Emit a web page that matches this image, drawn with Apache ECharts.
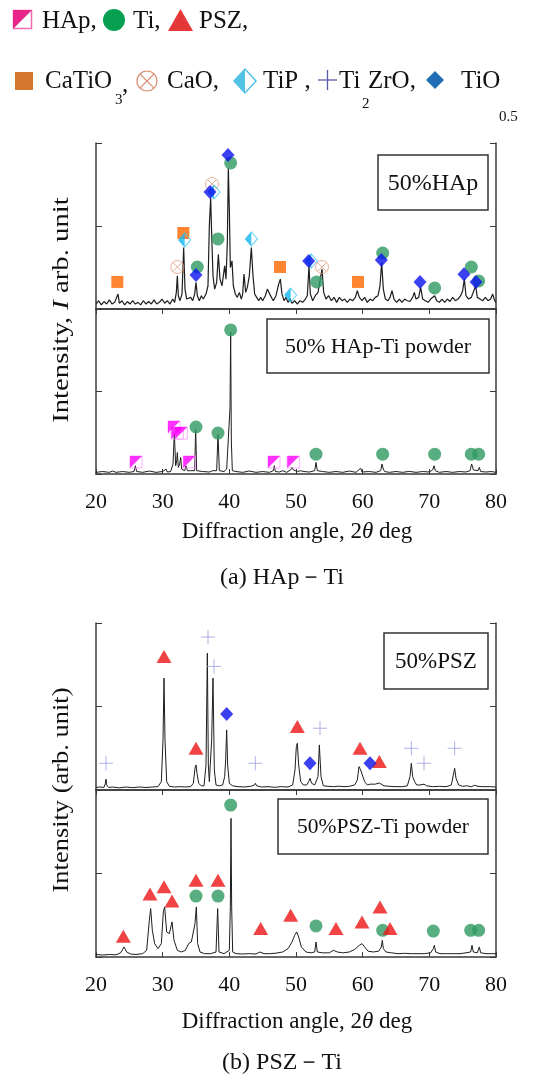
<!DOCTYPE html>
<html><head><meta charset="utf-8">
<script src="https://cdn.jsdelivr.net/npm/echarts@6.0.0/dist/echarts.min.js"></script>
<style>html,body{margin:0;padding:0;background:#fff}#c{width:555px;height:1075px}</style>
</head><body><div id="c"></div>
<script>
// 2θ tick labels shared by both panels
const angleTicks = [20, 30, 40, 50, 60, 70, 80];

// XRD traces: [2θ (deg), relative intensity 0-100 within its strip]
const hapSintered = [[20,3],[20.4,5],[20.8,2.5],[21.2,4.5],[21.6,3],[22,5.5],[22.4,3],[22.8,4],[23.1,3.5],[23.3,9],[23.5,3.5],[23.9,5],[24.3,2.5],[24.7,4.5],[25.1,3],[25.5,5],[25.9,3],[26.3,4],[26.7,2.5],[27.1,5],[27.5,3],[27.9,4.5],[28.3,3],[28.7,5.5],[29.1,3],[29.5,4],[29.9,6],[30.3,3.5],[30.7,5],[31.1,3],[31.5,6],[31.8,4],[32.05,10],[32.2,20],[32.35,8],[32.6,5],[32.9,9],[33.15,37],[33.35,12],[33.6,6],[33.9,5],[34.2,7],[34.5,5],[34.8,9],[35,16],[35.2,8],[35.5,5],[35.8,8],[36.1,6],[36.5,9],[36.8,14],[37.0,50],[37.2,67],[37.35,45],[37.55,20],[37.8,12],[38.1,16],[38.35,33],[38.6,18],[38.9,14],[39.1,20],[39.3,26],[39.5,18],[39.7,40],[39.85,85],[40.0,60],[40.15,25],[40.4,29],[40.6,14],[40.9,9],[41.2,7],[41.5,10],[41.8,6],[42.0,9],[42.2,21],[42.45,10],[42.7,13],[43.0,20],[43.3,37],[43.55,20],[43.8,9],[44.1,7],[44.4,5],[44.7,7],[45.0,5],[45.4,8],[45.7,12],[46.0,13],[46.3,7],[46.6,5],[47.0,8],[47.4,15],[47.65,18],[47.9,9],[48.2,5],[48.5,7],[48.8,4],[49.1,6],[49.4,3.5],[49.8,5],[50.2,3],[50.6,5],[51.0,4],[51.4,6],[51.7,8],[51.95,26],[52.15,9],[52.5,5],[52.9,8],[53.3,10],[53.6,17],[53.9,24],[54.15,10],[54.5,6],[54.9,8],[55.3,5],[55.7,7],[56.1,4],[56.5,7],[56.9,5],[57.3,6],[57.7,4],[58.1,6],[58.5,5],[58.9,7],[59.2,11],[59.5,7],[59.9,5],[60.3,7],[60.7,4],[61.1,6],[61.5,5],[61.9,7],[62.3,8],[62.6,14],[62.85,28],[63.1,12],[63.4,6],[63.8,5],[64.1,7],[64.4,11],[64.7,6],[65.1,4],[65.5,6],[65.9,4],[66.3,6],[66.7,5],[67.1,4.5],[67.5,7],[67.75,10],[68.0,6],[68.4,7],[68.7,13],[69.0,6],[69.4,5],[69.8,4],[70.2,6],[70.5,5],[70.8,8],[71.1,5],[71.5,4],[71.9,6],[72.3,4],[72.7,6],[73.1,4.5],[73.5,7],[73.9,5],[74.3,6],[74.7,8],[75.0,11],[75.25,18],[75.5,8],[75.9,6],[76.3,7],[76.6,6],[76.95,14],[77.2,7],[77.6,6],[78.0,5],[78.4,7],[78.8,5],[79.2,6],[79.5,9],[79.8,5],[80,4]];

const hapPowder = [[20,1],[21,1.5],[22,1],[22.5,1.8],[23,1],[24,1.5],[25,1],[25.7,1.5],[25.9,5],[26.1,1.5],[27,1],[28,1.8],[29,1],[30,1.5],[30.5,3],[30.7,1.2],[31.2,1.5],[31.55,6],[31.75,25],[31.95,5],[32.1,8],[32.2,13],[32.35,4],[32.55,6],[32.7,10],[32.85,3],[33.3,2],[33.5,5],[33.7,2],[34.0,3],[34.15,2],[34.8,2],[34.95,27],[35.1,2],[36,1.5],[37,1.2],[37.5,2],[38.1,2],[38.3,24],[38.5,2],[39.2,1.5],[39.6,3],[39.9,2],[40.1,40],[40.2,86],[40.3,20],[40.45,2],[41,1.5],[42,1],[43,1.8],[44,1],[45,1.5],[46,1],[46.6,2],[46.75,5],[46.9,1.5],[47.5,1.2],[48,2],[48.6,1],[49.2,2.5],[49.4,4],[49.6,2.5],[49.9,3],[50.2,1.5],[50.7,2],[51.2,1.5],[52,1.2],[52.8,2],[53.0,7],[53.2,2],[54,1.5],[55,1],[56,1.5],[57,1],[58,1.8],[59,1],[59.7,3.5],[59.9,1.2],[61,1.5],[62,1],[62.7,2],[62.9,6],[63.1,3],[63.3,1.5],[64,1],[65,1.5],[66,1],[67,1.6],[68,1],[69,1.5],[70,1.2],[70.5,2.5],[70.7,5],[70.9,2],[71.5,1],[72.5,1.5],[73.5,1],[74.5,1.5],[75.5,1.2],[76.1,2],[76.35,6],[76.6,2.5],[77.3,2],[77.5,4],[77.7,1.5],[78.5,1.2],[79.3,1.5],[80,1]];

const pszSintered = [[20,1.5],[20.6,1.8],[21.2,1.5],[21.4,4],[21.5,6.5],[21.6,3],[21.9,1.5],[22.5,1.8],[23.5,1.3],[24.5,1.8],[25.5,1.4],[26.5,1.8],[27.5,1.5],[28.5,1.8],[29.3,2],[29.8,5],[30.05,30],[30.2,67],[30.35,30],[30.6,5],[31.0,2.2],[31.8,1.8],[32.6,2],[33.4,1.8],[34.2,2],[34.6,4],[34.85,13],[35.0,15],[35.15,10],[35.4,4],[35.8,2.5],[36.2,2.5],[36.5,15],[36.7,82],[36.85,15],[37.0,5],[37.15,6],[37.35,30],[37.55,67],[37.75,12],[38.0,3],[38.5,2.5],[39.0,3],[39.3,8],[39.45,18],[39.6,36],[39.75,15],[40.0,4],[40.5,2.5],[41.3,2],[42.2,1.8],[43.2,2.2],[43.7,2.8],[43.9,4],[44.1,2.5],[44.8,1.8],[45.8,2],[46.8,1.6],[47.8,2],[48.8,1.8],[49.5,3],[49.85,12],[50.05,26],[50.2,28],[50.4,15],[50.7,5],[51.1,3],[51.6,3],[51.9,5],[52.1,7],[52.35,4],[52.8,3],[53.3,8],[53.5,27],[53.75,8],[54.1,2.5],[54.8,2.2],[55.6,2],[56.4,2.3],[57.2,2],[58.0,2.2],[58.8,3],[59.2,6],[59.45,14],[59.7,12],[59.95,9],[60.3,5],[60.7,3],[61.1,3.5],[61.4,3],[61.9,3.5],[62.2,4],[62.5,4.2],[62.8,3.5],[63.2,2.5],[64,2.2],[65,2],[66,2],[66.7,2.5],[67.1,8],[67.3,16],[67.5,8],[67.8,5],[68.1,3],[68.6,3],[68.9,4],[69.2,3.5],[69.6,2.5],[70.5,2],[71.5,2.2],[72.5,2],[73.3,3],[73.6,9],[73.8,13],[74.0,7],[74.4,3],[75,2.2],[75.6,2.5],[76.3,2],[76.8,2.8],[77.3,2.2],[78,2],[79,2],[80,1.8]];

const pszPowder = [[20,1.5],[21,1.2],[22,1.5],[23,1.3],[23.7,2.5],[24.2,6],[24.6,3],[25.2,1.8],[26,1.5],[27,2],[27.6,4],[28.0,22],[28.2,29],[28.45,16],[28.8,8],[29.3,5],[29.8,8],[30.1,27],[30.3,30],[30.6,15],[31.0,14],[31.4,21],[31.7,10],[32.2,4],[32.8,3],[33.4,4],[33.9,8],[34.3,9],[34.6,8],[34.85,20],[35.05,30],[35.25,8],[35.6,3],[36.3,2],[37.2,2],[38.0,3],[38.25,29],[38.45,3],[39.2,2],[40.0,4],[40.15,30],[40.25,83],[40.35,30],[40.5,3],[41,2],[42,1.8],[43,2],[44,1.8],[44.6,3],[45.2,2],[46,2],[47,2.3],[48,3],[48.8,5],[49.4,9],[49.8,13],[50.1,15],[50.4,12],[50.8,6],[51.5,3],[52.2,2.5],[52.8,3],[53.0,9],[53.2,3],[54,2.5],[55,2.5],[55.6,4],[56.2,3],[57,2.5],[58,3],[58.8,4.5],[59.5,7],[59.9,8],[60.3,6],[60.8,3.5],[61.6,3],[62.4,3.5],[62.8,6],[62.95,10],[63.1,5],[63.5,3],[64.3,2.5],[65.3,2],[66.3,2.2],[67.3,2],[68.3,2],[69.3,2],[70.2,2.5],[70.6,5],[70.75,7],[70.95,3],[71.6,2],[72.6,2],[73.6,2],[74.6,2],[75.5,2.5],[76.2,3],[76.4,7],[76.6,3],[77.2,2.5],[77.5,6],[77.7,2.5],[78.5,2],[79.5,2],[80,2]];

// Phase markers: [2θ, marker height]
const tiHapSintered = [[35.2,25.3],[38.3,42.2],[40.2,88],[53.1,16.3],[63.0,33.7],[70.8,12.7],[76.3,25.3],[77.4,16.9]];
const tioHapSintered = [[35.0,20.5],[37.1,70.5],[39.8,92.8],[51.9,28.9],[62.8,29.5],[68.6,16.3],[75.2,21],[77.0,16.3]];
const catio3HapSintered = [[23.2,16.3],[33.1,45.8],[47.6,25.3],[59.3,16.3]];
const caoHapSintered = [[32.2,25.3],[37.4,75.3],[53.9,25.3]];
const tipHapSintered = [[33.3,41.6],[37.7,70.5],[43.3,42.2],[49.2,8.4],[52.3,28.9]];

const hapHapPowder = [[26.0,7.3],[31.7,28.5],[32.2,24.8],[32.8,24.8],[34.0,7.3],[46.7,7.3],[49.6,7.3]];
const tiHapPowder = [[35.0,28.5],[38.3,24.8],[40.2,87.3],[53.0,12],[63.0,12],[70.8,12],[76.3,12],[77.4,12]];

const pszPszSintered = [[30.2,80],[35.0,25],[50.2,38],[59.6,25],[62.5,17]];
const ti2zroPszSintered = [[21.5,16],[36.8,91.6],[37.7,74],[43.9,16],[53.6,37],[67.3,25],[69.2,16],[73.8,25]];
const tioPszSintered = [[39.6,45.5],[52.1,16],[61.1,16]];

const pszPszPowder = [[24.1,12.5],[28.1,37.7],[30.2,42],[31.4,33.5],[35.0,46],[38.3,46],[44.7,17],[49.2,25],[56.0,17],[59.9,21],[62.6,30],[64.1,17]];
const tiPszPowder = [[35.0,36.5],[38.3,36.5],[40.2,91],[53.0,18.6],[63.0,16],[70.6,15.5],[76.2,16],[77.4,16]];

const SERIF = '"Liberation Serif", "Times New Roman", serif';
const FRAME = '#3a3a3a';

// four strips: (a) sintered / powder, (b) sintered / powder
const grids = [
  {left: 96, top: 143, width: 400, height: 166},
  {left: 96, top: 309, width: 400, height: 165},
  {left: 96, top: 623, width: 400, height: 167},
  {left: 96, top: 790, width: 400, height: 167}
];

const xAxes = [];
const yAxes = [];
const xIdx = [], yIdx = [];
grids.forEach((g, i) => {
  const isBottom = (i % 2 === 1);
  xIdx.push(xAxes.length);
  xAxes.push({
    type: 'value', gridIndex: i, position: 'bottom', min: 20, max: 80, interval: 10,
    axisLine: {show: true, lineStyle: {color: FRAME, width: 1.5}},
    axisTick: {show: isBottom, inside: true, length: 5, lineStyle: {color: FRAME}},
    axisLabel: {show: isBottom, margin: 17, color: '#111', fontFamily: SERIF, fontSize: 22,
      formatter: v => angleTicks.includes(v) ? String(v) : ''},
    splitLine: {show: false}
  });
  if (!isBottom) {
    xAxes.push({
      type: 'value', gridIndex: i, position: 'top', min: 20, max: 80, interval: 10,
      axisLine: {show: true, lineStyle: {color: FRAME, width: 1.5}},
      axisTick: {show: true, inside: true, length: 5, lineStyle: {color: FRAME}},
      axisLabel: {show: false}, splitLine: {show: false}
    });
  }
  ['left', 'right'].forEach((pos, k) => {
    if (k === 0) yIdx.push(yAxes.length);
    yAxes.push({
      type: 'value', gridIndex: i, position: pos, min: 0, max: 100, interval: 50,
      axisLine: {show: true, lineStyle: {color: FRAME, width: 1.5}},
      axisTick: {show: true, inside: true, length: 6, lineStyle: {color: FRAME}},
      axisLabel: {show: false}, splitLine: {show: false}
    });
  });
});

function trace(data, g, w) {
  return {type: 'line', data, xAxisIndex: xIdx[g], yAxisIndex: yIdx[g], symbol: 'none',
    lineStyle: {color: '#1e1e1e', width: w || 1}, silent: true, z: 2, animation: false};
}
const CLEAR = 'rgba(0,0,0,0)';
const MARK = {
  ti: [{symbol: 'circle', symbolSize: 13, itemStyle: {color: '#2f9a62'}}],
  psz: [{symbol: 'triangle', symbolSize: [15, 13], itemStyle: {color: '#ee1414'}}],
  tio: [{symbol: 'diamond', symbolSize: [13, 14], itemStyle: {color: '#0a10ee'}}],
  catio3: [{symbol: 'rect', symbolSize: 12, itemStyle: {color: '#ff6600'}}],
  cao: [{symbol: 'path://M10,0A10,10,0,1,1,10,20A10,10,0,1,1,10,0ZM2.93,2.93L17.07,17.07M17.07,2.93L2.93,17.07',
    symbolSize: 13, itemStyle: {color: CLEAR, borderColor: '#e29a80', borderWidth: 1}}],
  tip: [
    {symbol: 'diamond', symbolSize: [12, 14], itemStyle: {color: CLEAR, borderColor: '#3cc6f2', borderWidth: 1}},
    {symbol: 'path://M5,0L0,7L5,14Z', symbolSize: [6, 14], symbolOffset: [-3, 0], itemStyle: {color: '#12b6ee'}}
  ],
  hap: [
    {symbol: 'rect', symbolSize: 12, itemStyle: {color: CLEAR, borderColor: '#ff99ff', borderWidth: 1}},
    {symbol: 'path://M0,0L10,0L0,10Z', symbolSize: 12, itemStyle: {color: '#ff00ff'}}
  ],
  ti2zro: [{symbol: 'path://M5,0L5,10M0,5L10,5', symbolSize: 14,
    itemStyle: {color: CLEAR, borderColor: '#9c9ce2', borderWidth: 1}}]
};
function marks(data, g, kind) {
  return MARK[kind].map(m => Object.assign({
    type: 'scatter', data, xAxisIndex: xIdx[g], yAxisIndex: yIdx[g], z: 5,
    silent: true, animation: false
  }, m));
}

const series = [
  trace(hapSintered, 0, 1.2), trace(hapPowder, 1), trace(pszSintered, 2), trace(pszPowder, 3),
  ...marks(catio3HapSintered, 0, 'catio3'),
  ...marks(caoHapSintered, 0, 'cao'),
  ...marks(tipHapSintered, 0, 'tip'),
  ...marks(tiHapSintered, 0, 'ti'),
  ...marks(tioHapSintered, 0, 'tio'),
  ...marks(hapHapPowder, 1, 'hap'),
  ...marks(tiHapPowder, 1, 'ti'),
  ...marks(ti2zroPszSintered, 2, 'ti2zro'),
  ...marks(pszPszSintered, 2, 'psz'),
  ...marks(tioPszSintered, 2, 'tio'),
  ...marks(tiPszPowder, 3, 'ti'),
  ...marks(pszPszPowder, 3, 'psz')
];

// helpers for text and shapes drawn on top
function txt(text, x, y, size, extra) {
  return {type: 'text', z: 20, style: Object.assign({
    text, x, y, fontFamily: SERIF, fontSize: size, fill: '#111', align: 'left', verticalAlign: 'middle'
  }, extra || {})};
}
function labelBox(x, y, w, h, text, size) {
  return [
    {type: 'rect', z: 15, shape: {x, y, width: w, height: h}, style: {fill: '#fff', stroke: '#333', lineWidth: 1.5}},
    txt(text, x + w / 2, y + h / 2 + 1, size, {align: 'center'})
  ];
}
const ITALIC = {i: {fontFamily: SERIF, fontSize: 23, fontStyle: 'italic', fill: '#111'}};
function vTitle(text, x, y, stretch) {
  return {type: 'text', z: 20, x, y, rotation: Math.PI / 2, scaleX: stretch, style: {
    text, fontFamily: SERIF, fontSize: 23, fill: '#111', align: 'center', verticalAlign: 'middle', rich: ITALIC}};
}

const graphic = [
  // key, first row
  {type: 'rect', shape: {x: 13.5, y: 10.5, width: 18, height: 18}, style: {fill: '#fff', stroke: '#f06ab4', lineWidth: 1.5}},
  {type: 'polygon', shape: {points: [[13, 10], [32, 10], [13, 29]]}, style: {fill: '#e8268a'}},
  txt('HAp,', 42, 21, 25),
  {type: 'circle', shape: {cx: 114, cy: 20, r: 11}, style: {fill: '#06a050'}},
  txt('Ti,', 133, 21, 25),
  {type: 'polygon', shape: {points: [[168, 31], [180.5, 9], [193, 31]]}, style: {fill: '#e43838'}},
  txt('PSZ,', 199, 21, 25),
  // key, second row
  {type: 'rect', shape: {x: 15, y: 72, width: 18, height: 18}, style: {fill: '#d4782e'}},
  txt('CaTiO', 45, 81, 25),
  txt('3', 115, 100, 15),
  txt(',', 122, 85, 25),
  {type: 'circle', shape: {cx: 147, cy: 81, r: 10}, style: {fill: 'none', stroke: '#d88a6c', lineWidth: 1.2}},
  {type: 'line', shape: {x1: 139.9, y1: 73.9, x2: 154.1, y2: 88.1}, style: {stroke: '#d88a6c', lineWidth: 1.2}},
  {type: 'line', shape: {x1: 154.1, y1: 73.9, x2: 139.9, y2: 88.1}, style: {stroke: '#d88a6c', lineWidth: 1.2}},
  txt('CaO,', 167, 81, 25),
  {type: 'polygon', shape: {points: [[245, 69], [256, 81], [245, 93], [234, 81]]}, style: {fill: 'none', stroke: '#52c2e6', lineWidth: 1.5}},
  {type: 'polygon', shape: {points: [[245, 69], [234, 81], [245, 93]]}, style: {fill: '#52c2e6'}},
  txt('TiP ,', 263, 81, 25),
  {type: 'line', shape: {x1: 318, y1: 80, x2: 337, y2: 80}, style: {stroke: '#5a5aa8', lineWidth: 1.3}},
  {type: 'line', shape: {x1: 327.5, y1: 70, x2: 327.5, y2: 90}, style: {stroke: '#5a5aa8', lineWidth: 1.3}},
  txt('Ti', 339, 81, 25),
  txt('2', 362, 104, 15),
  txt('ZrO,', 368, 81, 25),
  {type: 'polygon', shape: {points: [[435, 71], [444, 80], [435, 89], [426, 80]]}, style: {fill: '#1f6db5'}},
  txt('TiO', 461, 81, 25),
  txt('0.5', 499, 117, 15),

  // sample labels
  ...labelBox(378, 155, 110, 55, '50%HAp', 24),
  ...labelBox(267, 319, 222, 54, '50% HAp-Ti powder', 22),
  ...labelBox(384, 633, 104, 56, '50%PSZ', 23),
  ...labelBox(278, 799, 210, 55, '50%PSZ-Ti powder', 21.5),

  // axis titles
  vTitle('Intensity, {i|I} arb. unit', 62, 310, 1.25),
  vTitle('Intensity (arb. unit)', 62, 790, 1.15),
  txt('Diffraction angle, 2{i|θ} deg', 297, 532, 23, {align: 'center', rich: ITALIC}),
  txt('Diffraction angle, 2{i|θ} deg', 297, 1022, 23, {align: 'center', rich: ITALIC}),

  // panel captions
  txt('(a) HAp－Ti', 282, 578, 24, {align: 'center'}),
  txt('(b) PSZ－Ti', 282, 1063, 24, {align: 'center'})
];

const chart = echarts.init(document.getElementById('c'), null, {renderer: 'canvas'});
chart.setOption({
  animation: false,
  backgroundColor: '#fff',
  grid: grids,
  xAxis: xAxes,
  yAxis: yAxes,
  series,
  graphic
});
</script></body></html>
